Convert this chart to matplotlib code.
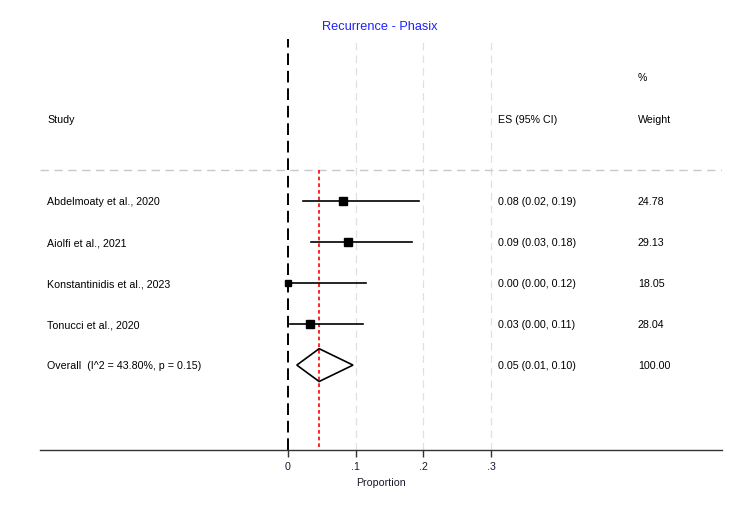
import numpy as np
import matplotlib
matplotlib.use("Agg")
import matplotlib.pyplot as plt

plt.rcParams['font.family'] = ['Liberation Sans', 'DejaVu Sans']

studies = ['Abdelmoaty et al., 2020', 'Aiolfi et al., 2021',
           'Konstantinidis et al., 2023', 'Tonucci et al., 2020']
es = [0.081, 0.089, 0.0, 0.032]
lo = [0.022, 0.034, 0.0, 0.003]
hi = [0.193, 0.183, 0.115, 0.111]
weights = [24.78, 29.13, 18.05, 28.04]
es_txt = ['0.08 (0.02, 0.19)', '0.09 (0.03, 0.18)',
          '0.00 (0.00, 0.12)', '0.03 (0.00, 0.11)']
w_txt = ['24.78', '29.13', '18.05', '28.04']

ov_es = 0.046
ov_lo = 0.013
ov_hi = 0.096
ov_label = 'Overall  (I^2 = 43.80%, p = 0.15)'
ov_txt = '0.05 (0.01, 0.10)'

xticks = [0, 0.1, 0.2, 0.3]
xticklabels = ['0', '.1', '.2', '.3']

fig = plt.figure(figsize=(7.5, 5.1), dpi=100)
ax = fig.add_axes([40/750, 1-451/510, 682/750, 411/510])
ax.set_xlim(-0.3663, 0.641)
ax.set_ylim(6.07, -3.95)

fs = 7.7
tr = ax.get_yaxis_transform()
# grid lines
for xv in xticks[1:]:
    ax.axvline(xv, color='#e0e0e0', lw=0.9, ls=(0, (6, 4)), zorder=1)
ax.axvline(0, color='black', lw=1.4, ls=(0, (6, 3)), zorder=2)
ax.plot([-0.3663, 0.641], [-0.75, -0.75], color='#c8c8c8', lw=1.0,
        ls=(0, (6, 4)), zorder=1)
ax.plot([ov_es, ov_es], [-0.75, 6.07], color='red', lw=1.2,
        ls=(0, (2.2, 1.8)), zorder=3)

rows = np.arange(len(studies))
for i in rows:
    ax.plot([lo[i], hi[i]], [i, i], color='black', lw=1.2, zorder=4)
    ax.plot(es[i], i, marker='s', color='black',
            markersize=1.15 * np.sqrt(weights[i]), zorder=5)
    ax.text(0.0103, i, studies[i], transform=tr, va='center', fontsize=fs)
    ax.text(0.6716, i, es_txt[i], transform=tr, va='center', fontsize=fs)
    ax.text(0.8768, i, w_txt[i], transform=tr, va='center', fontsize=fs)

yo = len(studies)
ax.fill([ov_lo, ov_es, ov_hi, ov_es, ov_lo],
        [yo, yo - 0.4, yo, yo + 0.4, yo], facecolor='none',
        edgecolor='black', lw=1.2, zorder=4)
ax.text(0.0103, yo, ov_label, transform=tr, va='center', fontsize=fs)
ax.text(0.6716, yo, ov_txt, transform=tr, va='center', fontsize=fs)
ax.text(0.8768, yo, '100.00', transform=tr, va='center', fontsize=fs)

# headers
ax.text(0.0103, -2, 'Study', transform=tr, va='center', fontsize=fs)
ax.text(0.6716, -2, 'ES (95% CI)', transform=tr, va='center', fontsize=fs)
ax.text(0.8768, -2, 'Weight', transform=tr, va='center', fontsize=fs)
ax.text(0.8768, -3.02, '%', transform=tr, va='center', fontsize=fs)

for s in ['top', 'left', 'right']:
    ax.spines[s].set_visible(False)
ax.spines['bottom'].set_linewidth(1.0)
ax.spines['bottom'].set_color('#333333')
ax.set_yticks([])
ax.set_xticks(xticks)
ax.set_xticklabels(xticklabels, fontsize=fs, color='#1a1a3a')
ax.tick_params(axis='x', length=5, width=1.0, color='#333333', pad=3)
ax.set_xlabel('Proportion', fontsize=fs, color='#1a1a2a', labelpad=4)

fig.text(380/750, 1-27/510, 'Recurrence - Phasix', color='#1f1fff',
         ha='center', va='center', fontsize=9.2)

fig.savefig('out.png', dpi=100)
